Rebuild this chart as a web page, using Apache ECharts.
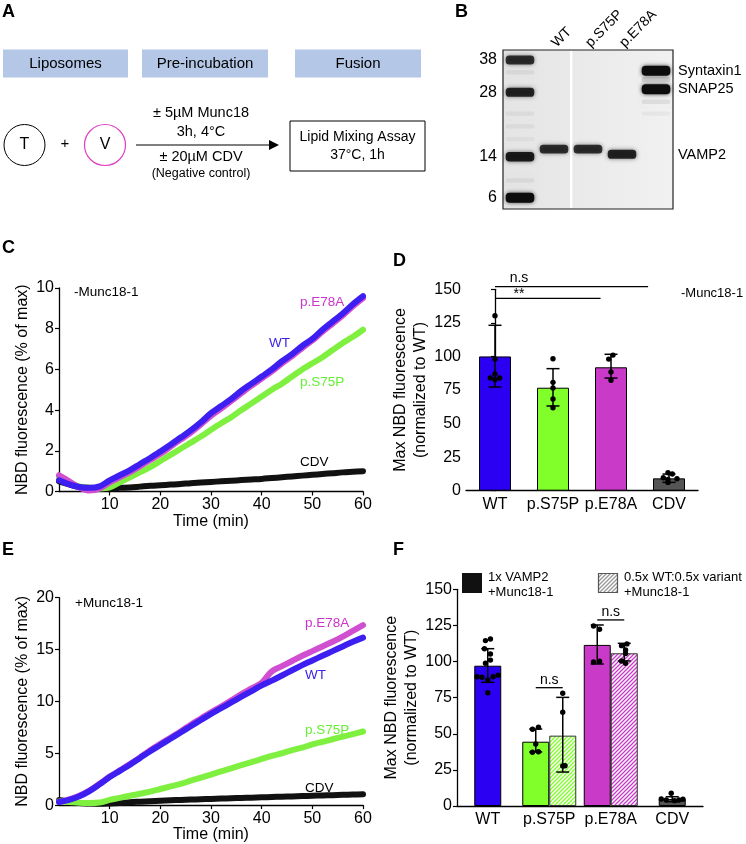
<!DOCTYPE html>
<html><head><meta charset="utf-8">
<script src="https://cdn.jsdelivr.net/npm/echarts@6/dist/echarts.min.js"></script>
<style>html,body{margin:0;padding:0;background:#fff}#c{width:746px;height:844px}</style>
</head><body><div id="c"></div>
<script>
// ================= DATA =================
// Panels C / E : time course (min)
const times = [0,2,4,6,8,10,12,14,16,18,20,22,24,26,28,30,32,34,36,38,40,42,44,46,48,50,52,54,56,58,60];
// C : -Munc18-1
const cWT   = [0.55,0.35,0.22,0.18,0.25,0.55,0.8,1.05,1.35,1.65,1.97,2.3,2.65,3.0,3.4,3.85,4.2,4.55,4.95,5.3,5.65,6.0,6.4,6.75,7.15,7.5,7.95,8.35,8.75,9.2,9.6];
const cE78A = [0.8,0.5,0.2,0.05,0.15,0.45,0.7,0.95,1.25,1.55,1.85,2.2,2.55,2.9,3.3,3.72,4.08,4.45,4.83,5.2,5.55,5.9,6.3,6.65,7.05,7.42,7.85,8.25,8.65,9.1,9.5];
const cS75P = [0.7,0.45,0.25,0.2,0.15,0.2,0.45,0.7,0.95,1.2,1.5,1.8,2.1,2.4,2.7,3.03,3.35,3.65,4.0,4.33,4.67,5.0,5.3,5.65,6.0,6.3,6.6,6.95,7.3,7.6,7.95];
const cCDV  = [0.5,0.35,0.22,0.16,0.13,0.15,0.18,0.2,0.24,0.28,0.31,0.34,0.37,0.41,0.44,0.47,0.5,0.53,0.56,0.59,0.62,0.66,0.7,0.74,0.78,0.82,0.86,0.9,0.94,0.97,1.0];
// E : +Munc18-1
const eWT   = [0.3,0.5,0.85,1.35,2.0,2.7,3.3,3.9,4.55,5.2,5.8,6.4,7.0,7.6,8.2,8.8,9.35,9.9,10.45,11.0,11.55,12.0,12.5,13.0,13.5,13.95,14.4,14.85,15.3,15.75,16.15];
const eE78A = [0.3,0.55,0.9,1.4,2.05,2.75,3.35,3.95,4.6,5.3,5.9,6.5,7.1,7.75,8.35,8.95,9.5,10.1,10.7,11.25,11.8,12.9,13.4,13.9,14.4,14.85,15.3,15.75,16.25,16.8,17.35];
const eS75P = [0.35,0.3,0.22,0.2,0.25,0.5,0.7,0.9,1.1,1.3,1.55,1.8,2.05,2.35,2.65,2.95,3.25,3.55,3.85,4.15,4.45,4.75,5.0,5.3,5.55,5.85,6.1,6.35,6.6,6.85,7.1];
const eCDV  = [0.5,0.35,0.2,0.15,0.12,0.15,0.2,0.28,0.33,0.38,0.42,0.46,0.5,0.53,0.56,0.6,0.63,0.66,0.69,0.72,0.75,0.78,0.81,0.84,0.87,0.9,0.93,0.96,0.99,1.02,1.05];

// Panels D / F : bar categories
const barCats = ['WT','p.S75P','p.E78A','CDV'];
// D : mean, error bar ends, individual points [category, value, jitter]
const dMeans   = [100, 76.7, 91.9, 9.2];
const dErrHigh = [123.2, 90.9, 101.6, 12.4];
const dErrLow  = [77.2, 63.1, 83.9, 6.2];
const dDots = [[0,130.3,0],[0,98,0],[0,86.9,0],[0,83.9,-4.7],[0,82.7,0],[0,83.9,4.7],
  [1,98.3,0],[1,80.7,0],[1,76.5,0],[1,68.3,0],[1,61.8,0],
  [2,101,2],[2,98,-2.3],[2,88.4,0],[2,82.2,0],
  [3,13.4,-1],[3,12.4,3.3],[3,9.7,-5.7],[3,8.9,8],[3,8.4,-1],[3,6.2,-1]];
const dBracketFrom = [0, 0];
const dBracketTo   = [2.64, 1.82];
const dBracketY    = [152, 143.3];
const dBracketText = ['n.s', '**'];

// F : 1x VAMP2 (solid) and 0.5x WT:0.5x variant (hatched)
const fSolidMean = [97.1, 44.5, 111.5, 4.8];
const fSolidHigh = [108.9, 53.3, 125.3, 6.4];
const fSolidLow  = [85.6, 37.4, 98.3, 3.0];
const fHatchMean = [null, 48.7, 105.7, null];
const fHatchHigh = [null, 75.2, 112.6, null];
const fHatchLow  = [null, 23.5, 100.4, null];
const fSolidDots = [[0,114.5,-2.3],[0,115.6,2.7],[0,108.9,-3.3],[0,105.2,2.7],[0,101,2.7],[0,98.8,-2.3],
  [0,89.5,-10.7],[0,89.1,-5.7],[0,87.2,0],[0,89.5,5.3],[0,90.5,10.3],[0,78.4,0],
  [1,53.1,-3.3],[1,54.5,2.7],[1,42.9,0],[1,37.2,-3.3],[1,37.6,2.7],
  [2,124.6,-3.7],[2,122.3,2.3],[2,99.7,-3.7],[2,100.2,2.3],
  [3,8.8,-1],[3,4.8,-11],[3,4.2,-6],[3,3.7,2.3],[3,4.2,6.7],[3,4.7,10.7]];
const fHatchDots = [[1,78,0],[1,64.9,0],[1,27.7,0],[1,27.9,2.3],
  [2,112.2,2.7],[2,111,-2.7],[2,108,1.3],[2,105.5,1.3],[2,100.4,-2.7],[2,98.8,1.3]];
const fBracketCats = [1, 2];
const fBracketY    = [81.9, 128.8];
const fBracketText = ['n.s', 'n.s'];

// Panel B : gel (lane, relative migration %, intensity)
const gelLanes = ['ladder','WT','p.S75P','p.E78A','SNAREs'];
const gelLaneLabels = ['', 'WT', 'p.S75P', 'p.E78A', ''];
const ladderKDa = [38, 28, 14, 6];
const ladderMig = [6.3, 26.6, 67.1, 93];
const gelBands = [
  [0,6.3,0.8],[0,26.6,0.85],[0,67.1,0.9],[0,93,1.0],[0,14,0.06],[0,40,0.05],[0,48,0.05],[0,56,0.04],[0,82,0.06],
  [1,62.3,0.8],[2,62.3,0.8],[3,65.6,0.85],
  [4,13,1.0],[4,24.7,1.0],[4,18.5,0.15],[4,32.5,0.08],[4,40,0.04]];
const proteinNames = ['Syntaxin1','SNAP25','VAMP2'];
const proteinMig = [13, 24.7, 66];
const spliceAfterLane = [1];

// ================= STYLE =================
const FONT = '"Liberation Sans", Arial, Helvetica, sans-serif';
const colWT = '#2b00f2', colS75P = '#80ff2a', colE78A = '#c93ac9', colCDV = '#555555';
const barColors = [colWT, colS75P, colE78A, colCDV];
const lineColors = {WT:'#3d1ff2', E78A:'#d04ed0', S75P:'#80f040', CDV:'#111111'};
const BW_F = 27;

function stripes(color, bg) {
  const s = 4, c = document.createElement('canvas');
  c.width = s; c.height = s;
  const g = c.getContext('2d');
  g.fillStyle = bg; g.fillRect(0, 0, s, s);
  g.strokeStyle = color; g.lineWidth = 1.3;
  g.beginPath();
  g.moveTo(-1, s + 1); g.lineTo(s + 1, -1);
  g.moveTo(-1, 1); g.lineTo(1, -1);
  g.moveTo(s - 1, s + 1); g.lineTo(s + 1, s - 1);
  g.stroke();
  return {image: c, repeat: 'repeat'};
}

const chart = echarts.init(document.getElementById('c'), null, {renderer: 'canvas'});

const lbl = (size) => ({fontSize: size, color: '#000', fontFamily: FONT});
function timeAxis(grid) {
  return {type: 'value', gridIndex: grid, min: 0, max: 60, interval: 10,
    name: 'Time (min)', nameLocation: 'middle', nameGap: 19, nameTextStyle: lbl(16),
    axisLine: {onZero: false, lineStyle: {color: '#000', width: 1.3}},
    axisTick: {length: 4, lineStyle: {color: '#000', width: 1.2}},
    axisLabel: Object.assign({margin: 5, showMinLabel: false}, lbl(16)),
    splitLine: {show: false}};
}
function valAxis(grid, max, interval, name, gap) {
  return {type: 'value', gridIndex: grid, min: 0, max: max, interval: interval,
    name: name, nameLocation: 'middle', nameGap: gap, nameRotate: 90,
    nameTextStyle: Object.assign({lineHeight: 20}, lbl(16)),
    axisLine: {show: true, lineStyle: {color: '#000', width: 1.3}},
    axisTick: {show: true, length: 4, lineStyle: {color: '#000', width: 1.2}},
    axisLabel: Object.assign({margin: 5}, lbl(16)),
    splitLine: {show: false}};
}
function catAxis(grid, show) {
  return {type: 'category', gridIndex: grid, data: barCats, show: show,
    axisLine: {lineStyle: {color: '#000', width: 1.3}}, axisTick: {show: false},
    axisLabel: Object.assign({margin: 6, interval: 0}, lbl(16))};
}
function lineSeries(name, xi, yi, arr, color, z) {
  return {type: 'line', name: name, xAxisIndex: xi, yAxisIndex: yi, z: z,
    data: times.map((t, i) => [t, arr[i]]), showSymbol: false, smooth: 0.35,
    lineStyle: {color: color, width: 6, cap: 'round', join: 'round'}, itemStyle: {color: color},
    silent: true, animation: false};
}
function errRender(half) {
  return function (params, api) {
    const i = api.value(0);
    const lo = api.coord([i, api.value(1)]);
    const hi = api.coord([i, api.value(2)]);
    const x = lo[0] + api.value(3) * half;
    const cw = 6.5;
    const st = {stroke: '#000', lineWidth: 1.5};
    return {type: 'group', children: [
      {type: 'line', shape: {x1: x, y1: lo[1], x2: x, y2: hi[1]}, style: st},
      {type: 'line', shape: {x1: x - cw, y1: lo[1], x2: x + cw, y2: lo[1]}, style: st},
      {type: 'line', shape: {x1: x - cw, y1: hi[1], x2: x + cw, y2: hi[1]}, style: st}]};
  };
}
function dotRender(half) {
  return function (params, api) {
    const p = api.coord([api.value(0), api.value(1)]);
    return {type: 'circle', shape: {cx: p[0] + api.value(3) * half + api.value(2), cy: p[1], r: 2.7},
      style: {fill: '#000'}};
  };
}

// F slot: -1 solid / +1 hatched when a pair exists, 0 otherwise
const slotSolid = barCats.map((c, i) => fHatchMean[i] == null ? 0 : -1);

// ---------- graphic (panel A, letters, annotations, legend) ----------
function T(text, x, y, size, opt) {
  opt = opt || {};
  return {type: 'text', x: x, y: y, silent: true,
    style: {text: text, fill: opt.color || '#000', font: (opt.bold ? 'bold ' : '') + size + 'px ' + FONT,
      align: opt.align || 'left', textAlign: opt.align || 'left',
      verticalAlign: 'middle', textVerticalAlign: 'middle'}};
}
const headerFill = '#b4c7e7';
const graphics = [
  T('A', 2, 12, 18, {bold: true}), T('B', 455, 12, 18, {bold: true}),
  T('C', 2, 248, 18, {bold: true}), T('D', 393, 261, 18, {bold: true}),
  T('E', 2, 550, 18, {bold: true}), T('F', 393, 550, 18, {bold: true}),
  // panel A
  {type: 'rect', shape: {x: 3, y: 49.5, width: 125, height: 28}, style: {fill: headerFill}},
  {type: 'rect', shape: {x: 142, y: 49.5, width: 126, height: 28}, style: {fill: headerFill}},
  {type: 'rect', shape: {x: 295, y: 49.5, width: 126, height: 28}, style: {fill: headerFill}},
  T('Liposomes', 65.5, 63.5, 15, {align: 'center'}),
  T('Pre-incubation', 205, 63.5, 15, {align: 'center'}),
  T('Fusion', 358, 63.5, 15, {align: 'center'}),
  {type: 'circle', shape: {cx: 24.5, cy: 145, r: 20.5}, style: {fill: 'none', stroke: '#000', lineWidth: 1}},
  {type: 'circle', shape: {cx: 105, cy: 145, r: 20.5}, style: {fill: 'none', stroke: '#e040c0', lineWidth: 1.2}},
  T('T', 24.5, 145, 16, {align: 'center'}), T('V', 105, 145, 16, {align: 'center'}),
  T('+', 65, 144, 15, {align: 'center'}),
  {type: 'line', shape: {x1: 136, y1: 145, x2: 270, y2: 145}, style: {stroke: '#000', lineWidth: 1.2}},
  {type: 'polygon', shape: {points: [[269, 140], [279, 145], [269, 150]]}, style: {fill: '#000'}},
  T('± 5µM Munc18', 201, 113, 14.5, {align: 'center'}),
  T('3h, 4°C', 201, 132, 14.5, {align: 'center'}),
  T('± 20µM CDV', 201, 157, 14.5, {align: 'center'}),
  T('(Negative control)', 201, 174, 12.5, {align: 'center'}),
  {type: 'rect', shape: {x: 290, y: 121, width: 135, height: 50}, style: {fill: 'none', stroke: '#000', lineWidth: 1}},
  T('Lipid Mixing Assay', 357.5, 137, 14, {align: 'center'}),
  T('37°C, 1h', 357.5, 155, 14, {align: 'center'}),
  // C annotations
  T('-Munc18-1', 74, 292, 13.5),
  T('p.E78A', 300, 302, 13.5, {color: '#cc33cc'}),
  T('WT', 269, 343, 13.5, {color: '#3a22e8'}),
  T('p.S75P', 300, 382, 13.5, {color: '#66ee33'}),
  T('CDV', 300, 462, 13.5),
  // E annotations
  T('+Munc18-1', 75, 603, 13.5),
  T('p.E78A', 305, 623, 13.5, {color: '#cc33cc'}),
  T('WT', 305, 675, 13.5, {color: '#3a22e8'}),
  T('p.S75P', 305, 730, 13.5, {color: '#66ee33'}),
  T('CDV', 305, 788, 13.5),
  // D annotation
  T('-Munc18-1', 681, 293, 13),
  // F legend
  {type: 'rect', shape: {x: 462, y: 573, width: 20, height: 20}, style: {fill: '#111'}},
  T('1x VAMP2', 488, 577, 13), T('+Munc18-1', 488, 592, 13),
  {type: 'rect', shape: {x: 598.5, y: 573.5, width: 19, height: 19}, style: {fill: stripes('#999', '#fff'), stroke: '#555', lineWidth: 1.2}},
  T('0.5x WT:0.5x variant', 624, 577, 13), T('+Munc18-1', 624, 592, 13)
];

const option = {
  animation: false,
  backgroundColor: '#fff',
  textStyle: {fontFamily: FONT},
  grid: [
    {left: 59, top: 288, width: 304, height: 203.5},           // C
    {left: 466, top: 289.3, width: 232, height: 201.4},        // D
    {left: 59, top: 597.7, width: 304, height: 211.5},         // E
    {left: 457, top: 589.3, width: 246, height: 216.7},        // F
    {left: 503, top: 50, width: 170, height: 159, show: true, borderColor: '#222', borderWidth: 1.2,
      backgroundColor: {type: 'linear', x: 0, y: 0, x2: 1, y2: 0, colorStops: [{offset: 0, color: '#e4e4e4'}, {offset: 1, color: '#f1f1f1'}]}} // B gel
  ],
  xAxis: [
    timeAxis(0),
    catAxis(1, true),
    {type: 'value', gridIndex: 1, min: -0.5, max: 3.5, show: false},
    timeAxis(2),
    catAxis(3, true),
    catAxis(3, false),
    {type: 'category', gridIndex: 4, position: 'top', data: gelLanes,
      axisLine: {show: false}, axisTick: {show: false},
      axisLabel: Object.assign({rotate: 45, margin: 5, interval: 0, formatter: (v, i) => gelLaneLabels[i]}, lbl(14))}
  ],
  yAxis: [
    valAxis(0, 10, 2, 'NBD fluorescence (% of max)', 23),
    valAxis(1, 150, 25, 'Max NBD fluorescence\n(normalized to WT)', 29),
    valAxis(2, 20, 5, 'NBD fluorescence (% of max)', 23),
    valAxis(3, 150, 25, 'Max NBD fluorescence\n(normalized to WT)', 32),
    {type: 'value', gridIndex: 4, min: 0, max: 100, inverse: true,
      axisLine: {show: false}, axisTick: {show: false}, splitLine: {show: false},
      axisLabel: Object.assign({margin: 6, customValues: ladderMig,
        formatter: v => { const k = ladderMig.indexOf(v); return k < 0 ? '' : String(ladderKDa[k]); }}, lbl(16))},
    {type: 'value', gridIndex: 4, min: 0, max: 100, inverse: true, position: 'right',
      axisLine: {show: false}, axisTick: {show: false}, splitLine: {show: false},
      axisLabel: Object.assign({margin: 5, customValues: proteinMig,
        formatter: v => { const k = proteinMig.indexOf(v); return k < 0 ? '' : proteinNames[k]; }}, lbl(14.5))}
  ],
  graphic: {elements: graphics},
  series: [
    // ---- C ----
    lineSeries('CDV', 0, 0, cCDV, lineColors.CDV, 2),
    lineSeries('p.S75P', 0, 0, cS75P, lineColors.S75P, 3),
    lineSeries('p.E78A', 0, 0, cE78A, lineColors.E78A, 4),
    lineSeries('WT', 0, 0, cWT, lineColors.WT, 5),
    // ---- E ----
    lineSeries('CDV', 3, 2, eCDV, lineColors.CDV, 2),
    lineSeries('p.S75P', 3, 2, eS75P, lineColors.S75P, 3),
    lineSeries('p.E78A', 3, 2, eE78A, lineColors.E78A, 4),
    lineSeries('WT', 3, 2, eWT, lineColors.WT, 5),
    // ---- D ----
    {type: 'bar', xAxisIndex: 1, yAxisIndex: 1, barWidth: 32, z: 2,
      data: dMeans.map((v, i) => ({value: v, itemStyle: {color: barColors[i]}})),
      itemStyle: {borderColor: '#000', borderWidth: 1}},
    {type: 'custom', xAxisIndex: 1, yAxisIndex: 1, z: 3, renderItem: errRender(0),
      data: barCats.map((c, i) => [i, dErrLow[i], dErrHigh[i], 0])},
    {type: 'custom', xAxisIndex: 1, yAxisIndex: 1, z: 4, renderItem: dotRender(0),
      data: dDots.map(d => [d[0], d[1], d[2], 0])},
    {type: 'custom', xAxisIndex: 2, yAxisIndex: 1, z: 4,
      data: dBracketY.map((y, k) => [dBracketFrom[k], dBracketTo[k], y]),
      renderItem: function (params, api) {
        const a = api.coord([api.value(0), api.value(2)]);
        const b = api.coord([api.value(1), api.value(2)]);
        const k = params.dataIndex;
        return {type: 'group', children: [
          {type: 'line', shape: {x1: a[0], y1: a[1], x2: b[0], y2: b[1]}, style: {stroke: '#000', lineWidth: 1.3}},
          {type: 'text', x: a[0] + 24, y: a[1] + (k === 1 ? 3 : -1),
            style: {text: dBracketText[k], fill: '#000', font: '14px ' + FONT, align: 'center', textAlign: 'center',
              verticalAlign: 'bottom', textVerticalAlign: 'bottom'}}]};
      }},
    // ---- F ----
    {type: 'bar', xAxisIndex: 5, yAxisIndex: 3, barWidth: BW_F, z: 2,
      data: fSolidMean.map((v, i) => fHatchMean[i] == null ? {value: v, itemStyle: {color: barColors[i]}} : '-'),
      itemStyle: {borderColor: '#000', borderWidth: 1}},
    {type: 'bar', xAxisIndex: 4, yAxisIndex: 3, barWidth: BW_F, barGap: '0%', z: 2,
      data: fSolidMean.map((v, i) => fHatchMean[i] == null ? '-' : {value: v, itemStyle: {color: barColors[i]}}),
      itemStyle: {borderColor: '#000', borderWidth: 1}},
    {type: 'bar', xAxisIndex: 4, yAxisIndex: 3, barWidth: BW_F, barGap: '0%', z: 2,
      data: fHatchMean.map((v, i) => v == null ? '-' : {value: v, itemStyle: {color: stripes(barColors[i], '#ffffff')}}),
      itemStyle: {borderColor: '#333', borderWidth: 1}},
    {type: 'custom', xAxisIndex: 4, yAxisIndex: 3, z: 3, renderItem: errRender(BW_F / 2),
      data: barCats.map((c, i) => [i, fSolidLow[i], fSolidHigh[i], slotSolid[i]])
        .concat(barCats.map((c, i) => fHatchMean[i] == null ? null : [i, fHatchLow[i], fHatchHigh[i], 1]).filter(Boolean))},
    {type: 'custom', xAxisIndex: 4, yAxisIndex: 3, z: 4, renderItem: dotRender(BW_F / 2),
      data: fSolidDots.map(d => [d[0], d[1], d[2], slotSolid[d[0]]]).concat(fHatchDots.map(d => [d[0], d[1], d[2], 1]))},
    {type: 'custom', xAxisIndex: 4, yAxisIndex: 3, z: 4,
      data: fBracketCats.map((c, k) => [c, fBracketY[k]]),
      renderItem: function (params, api) {
        const p = api.coord([api.value(0), api.value(1)]);
        const h = BW_F / 2;
        return {type: 'group', children: [
          {type: 'line', shape: {x1: p[0] - h, y1: p[1], x2: p[0] + h, y2: p[1]}, style: {stroke: '#000', lineWidth: 1.3}},
          {type: 'text', x: p[0], y: p[1] - 1,
            style: {text: fBracketText[params.dataIndex], fill: '#000', font: '14px ' + FONT, align: 'center', textAlign: 'center',
              verticalAlign: 'bottom', textVerticalAlign: 'bottom'}}]};
      }},
    // ---- B gel ----
    {type: 'custom', xAxisIndex: 6, yAxisIndex: 4, z: 2, data: gelBands,
      renderItem: function (params, api) {
        const c = api.coord([api.value(0), api.value(1)]);
        const w = api.size([1, 0])[0] * 0.84;
        const inten = api.value(2);
        const h = 4 + 6 * inten;
        return {type: 'rect', shape: {x: c[0] - w / 2, y: c[1] - h / 2, width: w, height: h, r: h / 2.5},
          style: {fill: 'rgba(12,12,12,' + Math.min(1, inten) + ')', shadowBlur: 4, shadowColor: 'rgba(0,0,0,' + (0.7 * inten) + ')'}};
      }},
    {type: 'custom', xAxisIndex: 6, yAxisIndex: 4, z: 3, data: spliceAfterLane.map(l => [l, 0]),
      renderItem: function (params, api) {
        const c = api.coord([api.value(0), 0]);
        const w = api.size([1, 0])[0];
        const cs = params.coordSys;
        return {type: 'rect', shape: {x: c[0] + w / 2 - 1, y: cs.y + 1, width: 2.4, height: cs.height - 2}, style: {fill: '#fff'}};
      }}
  ]
};
chart.setOption(option);
</script>
</body></html>
